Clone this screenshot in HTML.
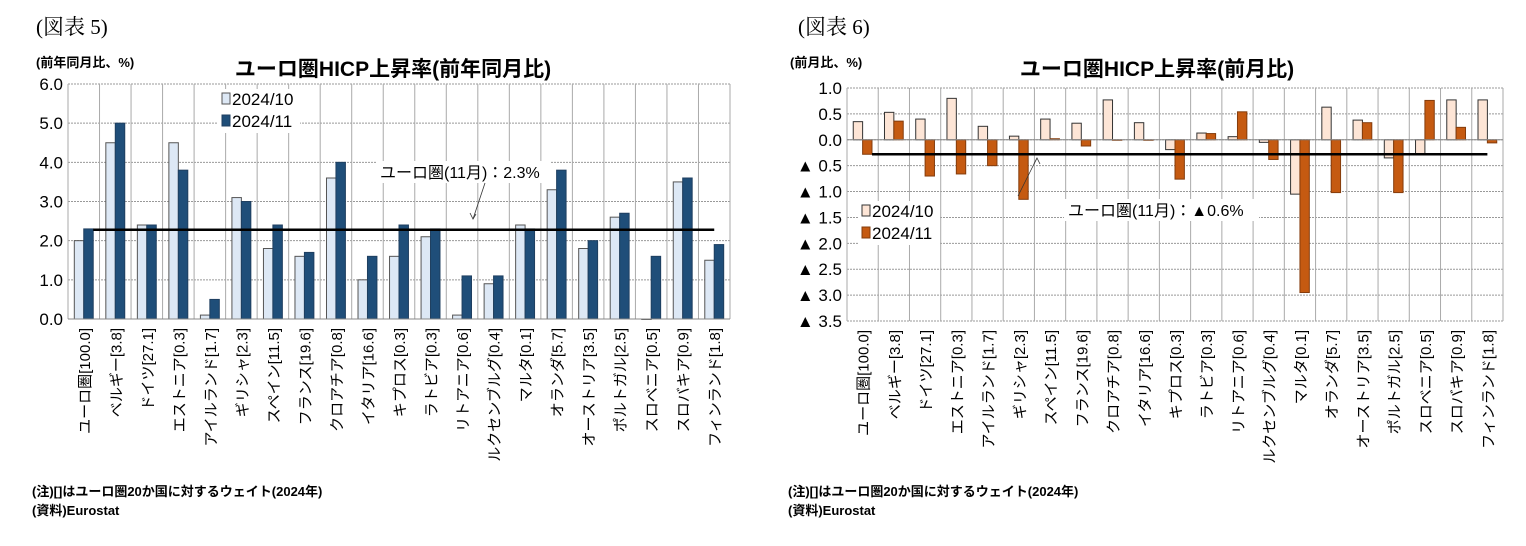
<!DOCTYPE html>
<html><head><meta charset="utf-8">
<style>
body{margin:0;background:#fff;}
svg text{font-family:"Liberation Sans","Noto Sans CJK JP",sans-serif;fill:#000;}
</style></head>
<body>
<svg id="s" width="1526" height="541" xmlns="http://www.w3.org/2000/svg">
<text x="36" y="34" font-size="21" style="font-family:'Liberation Serif','Noto Serif CJK SC',serif">(図表 5)</text>
<text x="36" y="67" font-size="13" font-weight="bold">(前年同月比、%)</text>
<text x="393" y="76" font-size="21" font-weight="bold" text-anchor="middle">ユーロ圏HICP上昇率(前年同月比)</text>
<text x="798" y="34" font-size="21" style="font-family:'Liberation Serif','Noto Serif CJK SC',serif">(図表 6)</text>
<text x="790" y="67" font-size="13" font-weight="bold">(前月比、%)</text>
<text x="1157" y="76" font-size="21" font-weight="bold" text-anchor="middle">ユーロ圏HICP上昇率(前月比)</text>
<text x="32" y="496" font-size="13" font-weight="bold">(注)[]はユーロ圏20か国に対するウェイト(2024年)</text>
<text x="32" y="515" font-size="13" font-weight="bold">(資料)Eurostat</text>
<text x="788" y="496" font-size="13" font-weight="bold">(注)[]はユーロ圏20か国に対するウェイト(2024年)</text>
<text x="788" y="515" font-size="13" font-weight="bold">(資料)Eurostat</text>
<g id="L"></g><g id="R"></g>
</svg>
<script>
const categories=["ユーロ圏[100.0]","ベルギー[3.8]","ドイツ[27.1]","エストニア[0.3]","アイルランド[1.7]","ギリシャ[2.3]","スペイン[11.5]","フランス[19.6]","クロアチア[0.8]","イタリア[16.6]","キプロス[0.3]","ラトビア[0.3]","リトアニア[0.6]","ルクセンブルグ[0.4]","マルタ[0.1]","オランダ[5.7]","オーストリア[3.5]","ポルトガル[2.5]","スロベニア[0.5]","スロバキア[0.9]","フィンランド[1.8]"];
const yoyOct=[2.0,4.5,2.4,4.5,0.1,3.1,1.8,1.6,3.6,1.0,1.6,2.1,0.1,0.9,2.4,3.3,1.8,2.6,0.0,3.5,1.5];
const yoyNov=[2.3,5.0,2.4,3.8,0.5,3.0,2.4,1.7,4.0,1.6,2.4,2.3,1.1,1.1,2.3,3.8,2.0,2.7,1.6,3.6,1.9];
const yoyEuro=[2.28];
const yoyTicks=["0.0","1.0","2.0","3.0","4.0","5.0","6.0"];
const momOct=[0.35,0.53,0.40,0.80,0.26,0.07,0.40,0.32,0.77,0.33,-0.19,0.13,0.06,-0.05,-1.05,0.63,0.38,-0.35,-0.27,0.77,0.77];
const momNov=[-0.28,0.36,-0.70,-0.66,-0.50,-1.15,0.02,-0.12,0.0,0.0,-0.76,0.12,0.54,-0.38,-2.95,-1.02,0.33,-1.02,0.76,0.24,-0.06];
const momEuro=[-0.28];
const momTicks=["1.0","0.5","0.0","▲ 0.5","▲ 1.0","▲ 1.5","▲ 2.0","▲ 2.5","▲ 3.0","▲ 3.5"];
const NS="http://www.w3.org/2000/svg";
function mk(p,t,a){const e=document.createElementNS(NS,t);for(const k in a)e.setAttribute(k,a[k]);p.appendChild(e);return e;}
function chart(g,o){
  const x0=o.x0,x1=o.x1,cw=(x1-x0)/categories.length;
  const y=v=>o.yTop+(o.max-v)*(o.yBot-o.yTop)/(o.max-o.min);
  const n=Math.round((o.max-o.min)/o.step);
  for(let i=0;i<=n;i++){const v=o.max-i*o.step,yy=y(v);
    const gl=mk(g,'line',{x1:x0,x2:x1,y1:yy,y2:yy,stroke:'#999','stroke-dasharray':'2,1','stroke-width':1});
    
    
    const t=mk(g,'text',{x:x0-5,y:yy+6,'font-size':17,'text-anchor':'end'});
    t.textContent=o.ticks[o.tickRev?i:n-i];
    
    }
  for(let i=0;i<=categories.length;i++){const xx=x0+i*cw;
    const vl=mk(g,'line',{x1:xx,x2:xx,y1:o.yTop,y2:o.yBot,stroke:'#aaa','stroke-width':1});
    
    }
  const bw=cw*0.3;
  categories.forEach((c,i)=>{const cx=x0+i*cw+cw/2;
    [[o.a,o.ca,o.sa,cx-bw],[o.b,o.cb,o.sb,cx]].forEach(([arr,col,st,bx],k)=>{
      const v=arr[i],y1=y(Math.max(v,0)),y2=y(Math.min(v,0));
      const r=mk(g,'rect',{x:bx,y:y1,width:bw,height:Math.max(y2-y1,0.5),fill:col,stroke:st,'stroke-width':1});
      
      });
    const t=mk(g,'text',{x:0,y:0,'font-size':15,'text-anchor':'end',transform:`translate(${cx+6},${o.yBot+9}) rotate(-90)`});
    t.textContent=c;
    
    });
  const ax=mk(g,'line',{x1:x0,x2:x1,y1:y(0),y2:y(0),stroke:'#888','stroke-width':1});
  
  
  const el=mk(g,'line',{x1:x0+cw*0.8,x2:x1-cw*0.5,y1:y(o.euro[0]),y2:y(o.euro[0]),stroke:'#000','stroke-width':2.5});
  
  
  [[o.ca,o.sa,'2024/10',o.ly],[o.cb,o.sb,'2024/11',o.ly+22]].forEach(([c,s,l,yy],k)=>{
    mk(g,'rect',{x:o.lx-4,y:yy-15,width:82,height:22,fill:'#fff'});
    const r=mk(g,'rect',{x:o.lx,y:yy-11,width:8,height:11,fill:c,stroke:s});
    
    
    const t=mk(g,'text',{x:o.lx+10,y:yy+1,'font-size':17});t.textContent=l;
    
    });
  mk(g,'rect',{x:o.ax-4,y:o.ay-17,width:o.aw,height:22,fill:'#fff'});
  const at=mk(g,'text',{x:o.ax,y:o.ay,'font-size':16});at.textContent=o.atext;
  
  
  const ar=mk(g,'line',{x1:o.a1[0],y1:o.a1[1],x2:o.a2[0],y2:o.a2[1],stroke:'#333','stroke-width':0.8});
  
  
  mk(g,'path',{d:`M${o.a2[0]-3},${o.a2[1]+(o.a2[1]>o.a1[1]?-6:6)} L${o.a2[0]},${o.a2[1]} L${o.a2[0]+3},${o.a2[1]+(o.a2[1]>o.a1[1]?-5:6)}`,fill:'none',stroke:'#333','stroke-width':0.8});
}
chart(document.getElementById('L'),{x0:68,x1:730,yTop:84,yBot:319,min:0,max:6,step:1,ticks:yoyTicks,a:yoyOct,b:yoyNov,ca:'#dde8f5',sa:'#555',cb:'#1f4e79',sb:'#1f3f60',euro:yoyEuro,lx:222,ly:104,ax:380,ay:178,aw:175,atext:'ユーロ圏(11月)：2.3%',a1:[485,183],a2:[473,219]});
chart(document.getElementById('R'),{x0:847,x1:1503,yTop:88,yBot:321,min:-3.5,max:1,step:0.5,ticks:momTicks,tickRev:true,a:momOct,b:momNov,ca:'#fde5d6',sa:'#333',cb:'#c55a11',sb:'#843c0c',euro:momEuro,lx:862,ly:216,ax:1068,ay:216,aw:195,atext:'ユーロ圏(11月)：▲0.6%',a1:[1018,196],a2:[1037,158]});
</script>
</body></html>
